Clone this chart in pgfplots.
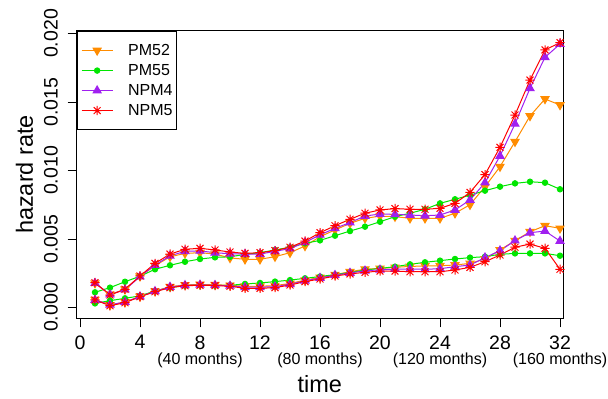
\documentclass[border=0pt]{standalone}
\usepackage{pgfplots}
\usepackage{pgfplotstable}
\usepackage{fontspec}
\setmainfont{Liberation Sans}
\pgfplotsset{compat=1.18}
\definecolor{cPMa}{HTML}{FF8C00}
\definecolor{cPMb}{HTML}{00E600}
\definecolor{cNPa}{HTML}{A020F0}
\definecolor{cNPb}{HTML}{FF0000}
\pgfdeclareplotmark{rast}{%
  \pgfpathmoveto{\pgfqpoint{-\pgfplotmarksize}{0pt}}\pgfpathlineto{\pgfqpoint{\pgfplotmarksize}{0pt}}%
  \pgfpathmoveto{\pgfqpoint{0pt}{-\pgfplotmarksize}}\pgfpathlineto{\pgfqpoint{0pt}{\pgfplotmarksize}}%
  \pgfpathmoveto{\pgfqpoint{-0.75\pgfplotmarksize}{-0.75\pgfplotmarksize}}\pgfpathlineto{\pgfqpoint{0.75\pgfplotmarksize}{0.75\pgfplotmarksize}}%
  \pgfpathmoveto{\pgfqpoint{-0.75\pgfplotmarksize}{0.75\pgfplotmarksize}}\pgfpathlineto{\pgfqpoint{0.75\pgfplotmarksize}{-0.75\pgfplotmarksize}}%
  \pgfusepathqstroke}
\pgfplotstableread{
t pma pmb npa npb
1 0.00178 0.00111 0.00178 0.00181
2 0.00095 0.00145 0.00095 0.00091
3 0.00133 0.00188 0.00130 0.00133
4 0.00228 0.00228 0.00225 0.00230
5 0.00305 0.00279 0.00310 0.00322
6 0.00370 0.00308 0.00377 0.00390
7 0.00395 0.00334 0.00410 0.00425
8 0.00400 0.00354 0.00413 0.00432
9 0.00390 0.00366 0.00400 0.00420
10 0.00362 0.00370 0.00392 0.00405
11 0.00352 0.00388 0.00390 0.00395
12 0.00352 0.00400 0.00390 0.00400
13 0.00371 0.00420 0.00410 0.00415
14 0.00400 0.00440 0.00430 0.00440
15 0.00449 0.00468 0.00475 0.00485
16 0.00517 0.00490 0.00530 0.00546
17 0.00566 0.00524 0.00578 0.00597
18 0.00614 0.00558 0.00620 0.00644
19 0.00651 0.00590 0.00668 0.00688
20 0.00667 0.00626 0.00682 0.00712
21 0.00663 0.00663 0.00680 0.00722
22 0.00651 0.00688 0.00675 0.00717
23 0.00651 0.00717 0.00670 0.00717
24 0.00651 0.00760 0.00675 0.00724
25 0.00688 0.00790 0.00712 0.00760
26 0.00750 0.00820 0.00785 0.00840
27 0.00882 0.00853 0.00911 0.00970
28 0.01028 0.00882 0.01106 0.01169
29 0.01210 0.00906 0.01340 0.01405
30 0.01398 0.00918 0.01600 0.01660
31 0.01522 0.00911 0.01826 0.01880
32 0.01478 0.00863 0.01923 0.01933
}\tabU
\pgfplotstableread{
t pma pmb npa npb
1 0.00058 0.00030 0.00055 0.00055
2 0.00018 0.00050 0.00020 0.00013
3 0.00040 0.00067 0.00040 0.00035
4 0.00080 0.00085 0.00080 0.00079
5 0.00120 0.00120 0.00118 0.00115
6 0.00152 0.00145 0.00150 0.00145
7 0.00165 0.00160 0.00162 0.00159
8 0.00168 0.00162 0.00165 0.00162
9 0.00166 0.00160 0.00163 0.00160
10 0.00162 0.00162 0.00158 0.00155
11 0.00155 0.00172 0.00148 0.00140
12 0.00155 0.00179 0.00148 0.00140
13 0.00160 0.00189 0.00152 0.00145
14 0.00175 0.00200 0.00170 0.00164
15 0.00200 0.00213 0.00195 0.00189
16 0.00220 0.00226 0.00215 0.00208
17 0.00240 0.00240 0.00236 0.00230
18 0.00261 0.00255 0.00252 0.00245
19 0.00280 0.00274 0.00268 0.00257
20 0.00285 0.00285 0.00275 0.00266
21 0.00293 0.00298 0.00280 0.00266
22 0.00300 0.00315 0.00280 0.00261
23 0.00303 0.00330 0.00279 0.00261
24 0.00305 0.00342 0.00283 0.00261
25 0.00310 0.00354 0.00298 0.00274
26 0.00322 0.00364 0.00310 0.00293
27 0.00354 0.00371 0.00364 0.00334
28 0.00420 0.00388 0.00415 0.00383
29 0.00488 0.00395 0.00488 0.00440
30 0.00553 0.00395 0.00546 0.00463
31 0.00597 0.00395 0.00558 0.00432
32 0.00578 0.00378 0.00485 0.00279
}\tabL
\begin{document}
\begin{tikzpicture}
\useasboundingbox (-76.7pt,-80.7pt) rectangle (531.3pt,318.3pt);
\begin{axis}[
  at={(0pt,0pt)}, anchor=south west,
  scale only axis, width=486.3pt, height=287.6pt,
  xmin=-0.22, xmax=32.2, ymin=-0.000788, ymax=0.020204,
  axis line style={line width=0.9pt},
  xtick={0,4,...,32},
  ytick={0,0.005,0.01,0.015,0.02},
  scaled y ticks=false,
  /pgf/number format/assume math mode=true,
  yticklabel style={/pgf/number format/fixed, /pgf/number format/precision=3, /pgf/number format/fixed zerofill},
  tick align=outside, tick pos=left,
  major tick length=9pt,
  tick style={line width=0.9pt, black},
  ticklabel style={font=\fontsize{19.5}{20}\selectfont, inner sep=0pt},
  yticklabel style={rotate=90, anchor=base},
  xticklabel style={anchor=north},
  yticklabel shift=10pt,
  xticklabel shift=8pt,
  xlabel={time},
  ylabel={hazard rate},
  label style={font=\fontsize{23.5}{24}\selectfont, inner sep=0pt},
  xlabel style={at={([yshift=-74.5pt]axis description cs:0.5,0)}, anchor=base},
  ylabel style={at={([xshift=-43.7pt]axis description cs:0,0.5)}, anchor=base},
  legend style={at={(0,1)}, anchor=north west, draw=black, line width=0.9pt,
    font=\fontsize{16}{16}\selectfont, inner xsep=4pt, inner ysep=13pt,
    row sep=7.5pt, column sep=15pt, nodes={inner sep=0pt}},
  legend cell align=left,
  legend image code/.code={\draw[#1, mark repeat=2, mark phase=2] plot coordinates {(0pt,0pt) (15.5pt,0pt) (31pt,0pt)};},
  every axis plot/.append style={line width=1pt},
  clip=false,
]
\addplot[cPMa, mark=triangle*, mark size=4.6pt, mark options={rotate=180}] table[x=t,y=pma]{\tabU};
\addlegendentry{PM52}
\addplot[cPMb, mark=*, mark size=2.7pt] table[x=t,y=pmb]{\tabU};
\addlegendentry{PM55}
\addplot[cNPa, mark=triangle*, mark size=4.6pt] table[x=t,y=npa]{\tabU};
\addlegendentry{NPM4}
\addplot[cNPb, mark=rast, mark size=4.6pt] table[x=t,y=npb]{\tabU};
\addlegendentry{NPM5}
\addplot[cPMa, mark=triangle*, mark size=4.6pt, mark options={rotate=180}, forget plot] table[x=t,y=pma]{\tabL};
\addplot[cPMb, mark=*, mark size=2.7pt, forget plot] table[x=t,y=pmb]{\tabL};
\addplot[cNPa, mark=triangle*, mark size=4.6pt, forget plot] table[x=t,y=npa]{\tabL};
\addplot[cNPb, mark=rast, mark size=4.6pt, forget plot] table[x=t,y=npb]{\tabL};
\node[font=\fontsize{16}{16}\selectfont, anchor=base] at ([yshift=-46pt]axis cs:8,-0.000788) {(40 months)};
\node[font=\fontsize{16}{16}\selectfont, anchor=base] at ([yshift=-46pt]axis cs:16,-0.000788) {(80 months)};
\node[font=\fontsize{16}{16}\selectfont, anchor=base] at ([yshift=-46pt]axis cs:24,-0.000788) {(120 months)};
\node[font=\fontsize{16}{16}\selectfont, anchor=base] at ([yshift=-46pt]axis cs:32,-0.000788) {(160 months)};
\end{axis}
\end{tikzpicture}
\end{document}
